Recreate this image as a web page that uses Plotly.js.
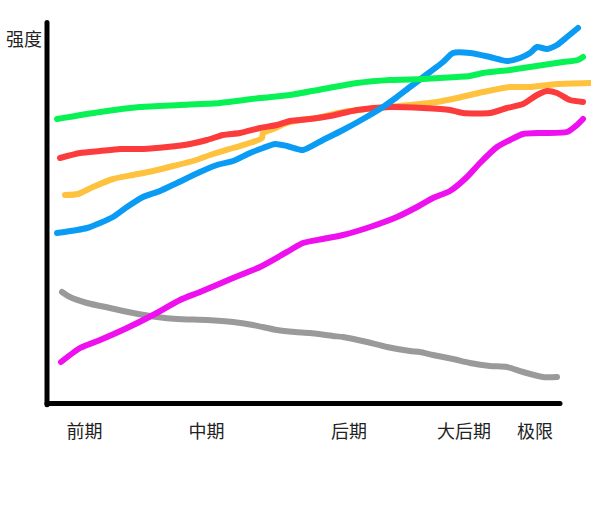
<!DOCTYPE html>
<html>
<head>
<meta charset="utf-8">
<script src="https://cdn.plot.ly/plotly-3.0.1.min.js"></script>
<style>
html,body{margin:0;padding:0;background:#fff;}
#chart .scatterlayer path.js-line{stroke-linecap:round;}
#chart .shapelayer path{stroke-linecap:round;}
</style>
</head>
<body>
<div id="chart" style="width:591px;height:507px;"></div>
<script>
// Stage labels on the x axis
const stageLabels = ['前期', '中期', '后期', '大后期', '极限'];
const stagePos = [37.5, 159.5, 302, 417, 488];

// Series (x = progress, y = strength)
const greenX = [10,53,93,133,173,213,243,276,310,343,376,410,423,436,463,476,496,516,531,536];
const greenY = [285,292,297,299,301,306,309,315,321,324,325,327,328,331,334,336,339,342,344,347];

const blueX = [10,30,40,53,66,80,96,113,130,153,170,186,203,216,228,240,256,276,296,316,336,350,363,383,396,406,423,443,460,473,483,490,500,510,520,531];
const blueY = [171,174,176,181,187,197,207,213,221,232,239,243,251,256,260,258,254,264,274,285,297,307,317,332,342,351,351,347,343,346,351,357,355,359,367,376];

const redX = [13,33,53,73,96,120,143,160,176,193,213,230,243,263,283,310,343,376,403,416,443,460,476,490,500,510,523,536];
const redY = [246,251,253,255,255,257,260,264,269,271,276,279,283,285,288,294,297,296,294,291,291,296,300,309,313,311,304,302];

const yellowX = [18,31,46,66,86,106,126,146,166,186,206,215,216,226,240,253,270,296,330,363,390,410,423,436,463,483,510,543];
const yellowY = [209,210,217,225,229,233,238,243,250,256,262,266,271,275,281,284,286,292,296,299,302,306,309,312,317,317,320,321];

const magentaX = [14,33,53,80,106,133,153,186,213,233,245,256,276,296,323,350,370,386,403,420,433,450,463,476,496,520,530,536];
const magentaY = [42,56,64,76,89,104,112,126,137,148,155,161,165,169,177,187,197,206,213,227,241,257,264,270,271,272,279,285];

const grayX = [15,23,40,63,86,110,130,160,186,206,230,248,263,286,296,320,340,363,373,386,406,423,443,460,476,496,510];
const grayY = [112,107,101,96,91,87,85,84,82,79,74,72,71,68,67,62,57,53,52,49,45,41,38,37,32,27,27];

function series(x, y, color) {
  return {
    x: x, y: y, type: 'scatter', mode: 'lines',
    line: {color: color, width: 6, shape: 'spline', smoothing: 0.6},
    hoverinfo: 'skip', showlegend: false
  };
}

const data = [
  series(grayX, grayY, '#9a9a9a'),
  series(magentaX, magentaY, '#ee10ee'),
  series(yellowX, yellowY, '#ffc23e'),
  series(redX, redY, '#fc3c3c'),
  series(blueX, blueY, '#0a9cf5'),
  series(greenX, greenY, '#08f255')
];

const layout = {
  width: 591, height: 507,
  margin: {l: 47, r: 0, t: 0, b: 103, pad: 0},
  paper_bgcolor: '#fff', plot_bgcolor: '#fff',
  showlegend: false,
  hovermode: false,
  font: {family: '"Noto Sans CJK SC", "Noto Sans", sans-serif', size: 18, color: '#222'},
  xaxis: {
    range: [0, 544], showgrid: false, zeroline: false, showline: false,
    tickmode: 'array', tickvals: stagePos, ticktext: stageLabels,
    ticks: '', ticklabelstandoff: 15,
    tickfont: {family: '"Noto Sans CJK SC", sans-serif', size: 18, color: '#222'},
    fixedrange: true
  },
  yaxis: {
    range: [0, 404], showgrid: false, zeroline: false, showline: false,
    showticklabels: false, ticks: '', fixedrange: true
  },
  shapes: [
    {type: 'line', xref: 'paper', yref: 'paper', x0: 0, x1: 0, y0: 0.944, y1: -0.002,
     line: {color: '#000', width: 5}, layer: 'above'},
    {type: 'line', xref: 'paper', yref: 'paper', x0: 0, x1: 0.943, y0: 0.001, y1: 0.001,
     line: {color: '#000', width: 5}, layer: 'above'}
  ],
  annotations: [
    {text: '强度', xref: 'paper', yref: 'paper', x: -0.0414, y: 0.905,
     xanchor: 'center', yanchor: 'middle', showarrow: false,
     font: {family: '"Noto Sans CJK SC", sans-serif', size: 18, color: '#222'}}
  ]
};

Plotly.newPlot('chart', data, layout, {displayModeBar: false, staticPlot: true});
</script>
</body>
</html>
